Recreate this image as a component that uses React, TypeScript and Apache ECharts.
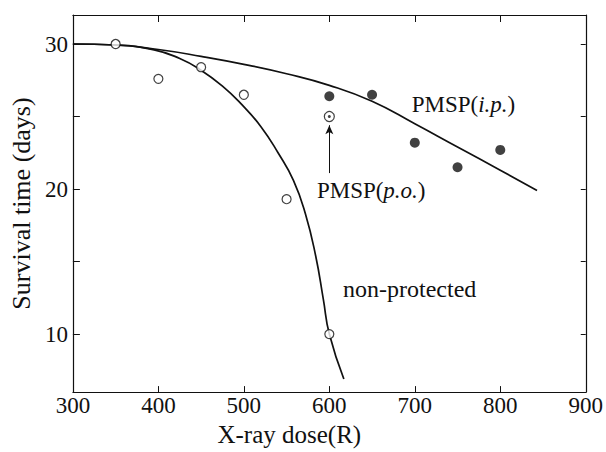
import React, { useEffect, useRef } from "react";
import * as echarts from "echarts";

// X-ray dose (R) axis
const xTickValues = [300, 400, 500, 600, 700, 800, 900];
// Survival time (days) axis
const yTickValues = [10, 15, 20, 25, 30];
const yLabelValues = [10, 20, 30];

// non-protected observations (open circles)
const nonProtDose = [350, 400, 450, 500, 550, 600];
const nonProtDays = [30, 27.6, 28.4, 26.5, 19.3, 10];

// PMSP (i.p.) observations (filled circles)
const ipDose = [600, 650, 700, 750, 800];
const ipDays = [26.4, 26.5, 23.2, 21.5, 22.7];

// PMSP (p.o.) observation
const poDose = [600];
const poDays = [25];

// fitted curves
const ipCurveDose = [300, 350, 400, 450, 500, 550, 600, 650, 700, 750, 800, 843];
const ipCurveDays = [30, 29.93, 29.62, 29.15, 28.6, 27.95, 27.15, 26.05, 24.5, 22.9, 21.3, 19.9];

const npCurveDose = [300, 350, 395, 425, 448, 475, 498, 520, 540, 558, 572, 584, 593, 600, 617];
const npCurveDays = [30, 29.93, 29.6, 29.0, 28.27, 27.1, 25.8, 24.3, 22.5, 20.6, 18.3, 15.4, 12.4, 10, 6.9];

const pair = (xs: number[], ys: number[]) => xs.map((x, i) => [x, ys[i]]);

const FONT = "'Liberation Serif', 'Times New Roman', serif";
const INK = "#111";

export default function App() {
  const ref = useRef<HTMLDivElement>(null);
  useEffect(() => {
    if (!ref.current) return;
    const chart = echarts.init(ref.current, undefined, { renderer: "svg" });
    const tickStyle = { color: INK, width: 1 };
    chart.setOption({
      animation: false,
      backgroundColor: "#fff",
      grid: { left: 68, right: 17, top: 15, bottom: 49, containLabel: false },
      xAxis: [
        {
          type: "value",
          min: 300,
          max: 900,
          interval: 100,
          position: "bottom",
          name: "X-ray dose(R)",
          nameLocation: "middle",
          nameGap: 24,
          nameTextStyle: { fontFamily: FONT, fontSize: 25, color: INK, padding: [0, 80, 0, 0] },
          axisLine: { show: true, lineStyle: { color: INK, width: 1.2 } },
          axisTick: { show: true, inside: true, length: 6, lineStyle: tickStyle },
          axisLabel: { fontFamily: FONT, fontSize: 23, color: INK, margin: 2, customValues: xTickValues },
          splitLine: { show: false },
        },
        {
          type: "value",
          min: 300,
          max: 900,
          interval: 100,
          position: "top",
          axisLine: { show: true, lineStyle: { color: INK, width: 1.2 } },
          axisTick: { show: true, inside: true, length: 7, lineStyle: tickStyle },
          axisLabel: { show: false },
          splitLine: { show: false },
        },
      ],
      yAxis: [
        {
          type: "value",
          min: 6,
          max: 32,
          position: "left",
          name: "Survival time (days)",
          nameLocation: "middle",
          nameGap: 30,
          nameTextStyle: { fontFamily: FONT, fontSize: 26, color: INK },
          axisLine: { show: true, lineStyle: { color: INK, width: 1.2 } },
          axisTick: { show: true, inside: true, length: 7, lineStyle: tickStyle, customValues: yTickValues },
          axisLabel: { fontFamily: FONT, fontSize: 23, color: INK, margin: 5, customValues: yLabelValues },
          splitLine: { show: false },
        },
        {
          type: "value",
          min: 6,
          max: 32,
          position: "right",
          axisLine: { show: true, lineStyle: { color: INK, width: 1.2 } },
          axisTick: { show: true, inside: true, length: 5, lineStyle: tickStyle, customValues: yTickValues },
          axisLabel: { show: false },
          splitLine: { show: false },
        },
      ],
      series: [
        {
          name: "PMSP(i.p.) curve",
          type: "line",
          data: pair(ipCurveDose, ipCurveDays),
          smooth: 0.5,
          showSymbol: false,
          symbol: "none",
          lineStyle: { color: INK, width: 1.7 },
          z: 2,
          markPoint: {
            symbol: "circle",
            symbolSize: 0,
            data: [
              {
                coord: [757, 25.8],
                label: {
                  show: true,
                  position: "inside",
                  formatter: "{n|PMSP(}{i|i.p.}{n|)}",
                  rich: {
                    n: { fontFamily: FONT, fontSize: 23, color: INK },
                    i: { fontFamily: FONT, fontSize: 23, color: INK, fontStyle: "italic" },
                  },
                },
              },
            ],
          },
        },
        {
          name: "non-protected curve",
          type: "line",
          data: pair(npCurveDose, npCurveDays),
          smooth: 0.5,
          showSymbol: false,
          symbol: "none",
          lineStyle: { color: INK, width: 1.7 },
          z: 2,
          markPoint: {
            symbol: "circle",
            symbolSize: 0,
            data: [
              {
                coord: [694, 13.1],
                label: {
                  show: true,
                  position: "inside",
                  formatter: "non-protected",
                  fontFamily: FONT,
                  fontSize: 24,
                  color: INK,
                },
              },
            ],
          },
        },
        {
          name: "non-protected",
          type: "scatter",
          data: pair(nonProtDose, nonProtDays),
          symbol: "circle",
          symbolSize: 9,
          itemStyle: { color: "#fff", borderColor: INK, borderWidth: 1.2 },
          z: 5,
        },
        {
          name: "PMSP(i.p.)",
          type: "scatter",
          data: pair(ipDose, ipDays),
          symbol: "circle",
          symbolSize: 10,
          itemStyle: { color: INK },
          z: 5,
        },
        {
          name: "PMSP(p.o.)",
          type: "scatter",
          data: pair(poDose, poDays),
          symbol: "circle",
          symbolSize: 10,
          itemStyle: { color: "#fff", borderColor: INK, borderWidth: 1.2 },
          z: 5,
          markLine: {
            silent: true,
            symbol: ["none", "arrow"],
            symbolSize: [6, 9],
            lineStyle: { color: INK, width: 1, type: "solid" },
            label: { show: false },
            data: [[{ coord: [600, 21.1] }, { coord: [600, 24.4] }]],
          },
          markPoint: {
            symbol: "circle",
            symbolSize: 0,
            data: [
              {
                coord: [649, 19.9],
                label: {
                  show: true,
                  position: "inside",
                  formatter: "{n|PMSP(}{i|p.o.}{n|)}",
                  rich: {
                    n: { fontFamily: FONT, fontSize: 23, color: INK },
                    i: { fontFamily: FONT, fontSize: 23, color: INK, fontStyle: "italic" },
                  },
                },
              },
            ],
          },
        },
        {
          name: "PMSP(p.o.) centre",
          type: "scatter",
          data: pair(poDose, poDays),
          symbol: "circle",
          symbolSize: 3,
          itemStyle: { color: INK },
          z: 6,
        },
      ],
    });
    return () => chart.dispose();
  }, []);
  return <div ref={ref} style={{ width: 606, height: 452, position: "absolute", left: 0, top: 0 }} />;
}
